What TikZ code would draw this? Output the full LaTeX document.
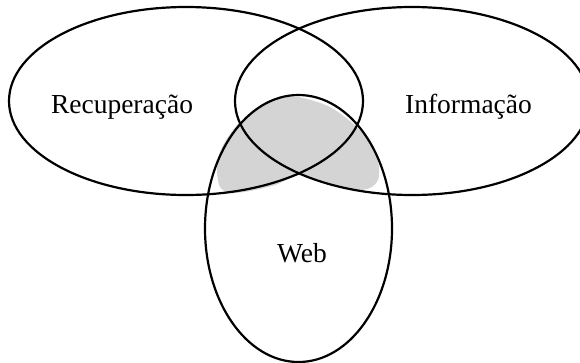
\documentclass[tikz,border=0pt]{standalone}
\usepackage{fontspec}
\setmainfont{Liberation Serif}
\usepackage{tikz}
\tikzset{>=latex}
\usetikzlibrary{calc}
\definecolor{overlapgray}{RGB}{212,212,212}
\tikzset{
    setline/.style={line width=2.2pt},
    setlabel/.style={font=\fontsize{27.5}{30}\selectfont, anchor=base, inner sep=0pt}
}

\begin{document}
\begin{tikzpicture}[x=1pt,y=-1pt]
    \useasboundingbox (0,0) rectangle (580,362);

    \coordinate (R) at (186,101);
    \coordinate (I) at (412,101);
    \coordinate (W) at (298.5,228.5);

    % Shaded overlap
    \fill[overlapgray] plot[smooth cycle, tension=0.5] coordinates {
        (298,97) (328,106) (350,121) (365,136) (375,152) (379,167)
        (378,180) (370,188) (355,190) (330,184) (301,175)
        (275,185) (250,191) (230,193) (220,187) (217,172)
        (219,155) (226,140) (238,124) (258,107) (278,99)};

    % Recuperacao
    \draw[setline] (R) ellipse (177pt and 94pt);

    % Informacao
    \draw[setline] (I) ellipse (177pt and 94pt);

    % Web
    \draw[setline] (W) ellipse (93.5pt and 133.5pt);

    % Labels
    \node[setlabel] (rec) at (122,113) {Recuperação};
    \node[setlabel] (inf) at (468.5,113) {Informação};
    \node[setlabel] (web) at (302,262) {Web};
\end{tikzpicture}
\end{document}
